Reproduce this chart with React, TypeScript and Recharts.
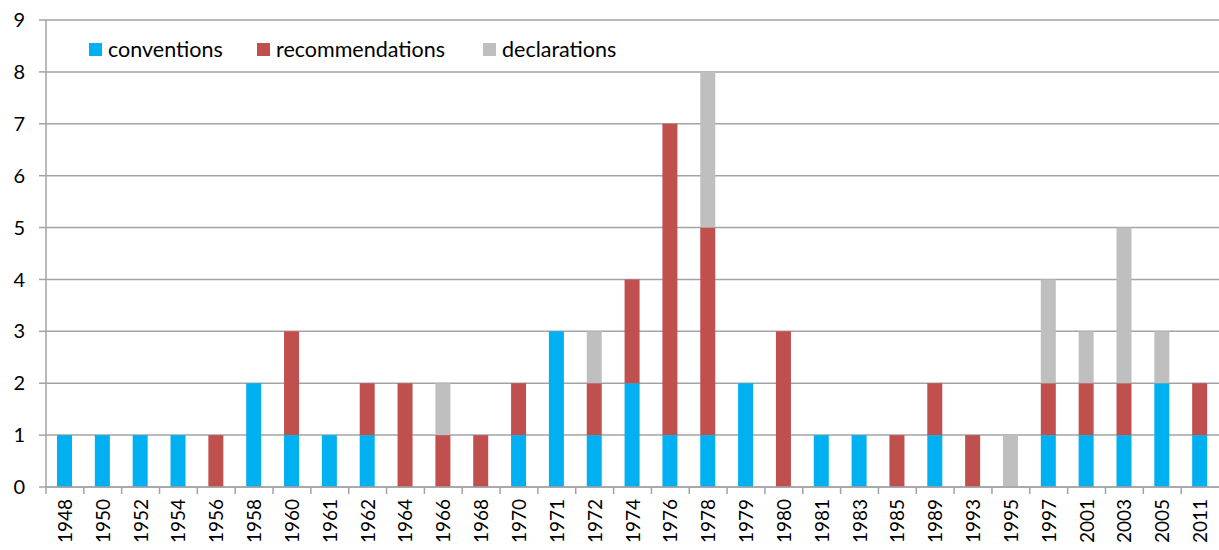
import React from 'react';
import { BarChart, Bar, XAxis, YAxis, CartesianGrid } from 'recharts';

const years = [
  '1948', '1950', '1952', '1954', '1956', '1958', '1960', '1961', '1962', '1964', '1966',
  '1968', '1970', '1971', '1972', '1974', '1976', '1978', '1979', '1980', '1981', '1983',
  '1985', '1989', '1993', '1995', '1997', '2001', '2003', '2005', '2011',
];
const conventions = [1, 1, 1, 1, 0, 2, 1, 1, 1, 0, 0, 0, 1, 3, 1, 2, 1, 1, 2, 0, 1, 1, 0, 1, 0, 0, 1, 1, 1, 2, 1];
const recommendations = [0, 0, 0, 0, 1, 0, 2, 0, 1, 2, 1, 1, 1, 0, 1, 2, 6, 4, 0, 3, 0, 0, 1, 1, 1, 0, 1, 1, 1, 0, 1];
const declarations = [0, 0, 0, 0, 0, 0, 0, 0, 0, 0, 1, 0, 0, 0, 1, 0, 0, 3, 0, 0, 0, 0, 0, 0, 0, 1, 2, 1, 3, 1, 0];
const yTicks = [0, 1, 2, 3, 4, 5, 6, 7, 8, 9];

const SERIES = [
  { key: 'conventions', name: 'conventions', color: '#00B0F0' },
  { key: 'recommendations', name: 'recommendations', color: '#C0504D' },
  { key: 'declarations', name: 'declarations', color: '#BFBFBF' },
];

const data = years.map((year, i) => ({
  year,
  conventions: conventions[i],
  recommendations: recommendations[i],
  declarations: declarations[i],
}));

const W = 1219;
const H = 550;
const LEFT = 46;
const BAND = (W - LEFT) / years.length;
const FONT = 'Lato, "Open Sans", sans-serif';
const GRID = '#a3a3a3';

function YearTick(props: any) {
  const { x, y, payload } = props;
  return (
    <g>
      <line x1={x - BAND / 2} y1={y} x2={x - BAND / 2} y2={y + 7} stroke={GRID} strokeWidth={1.5} />
      <text
        x={0}
        y={0}
        transform={`translate(${x + 7},${y + 12}) rotate(-90)`}
        textAnchor="end"
        fontSize={19}
        fontFamily={FONT}
        fill="#000"
      >
        {payload.value}
      </text>
    </g>
  );
}

function ChartLegend() {
  const offsets = [0, 168, 394];
  return (
    <div style={{ position: 'absolute', top: 36, left: 89, height: 26, fontFamily: FONT, fontSize: 21.5 }}>
      {SERIES.map((s, i) => (
        <div
          key={s.key}
          style={{ position: 'absolute', left: offsets[i], top: 0, display: 'flex', alignItems: 'center', whiteSpace: 'nowrap' }}
        >
          <span style={{ width: 13, height: 13, background: s.color, display: 'inline-block', marginRight: 6 }} />
          <span style={{ color: '#000', lineHeight: '26px' }}>{s.name}</span>
        </div>
      ))}
    </div>
  );
}

export default function App() {
  return (
    <div style={{ position: 'absolute', left: 0, top: 0, width: W, height: H, background: '#fff' }}>
      <BarChart width={W} height={H} data={data} margin={{ top: 20, right: 0, left: 0, bottom: 0 }} barSize={15}>
        <CartesianGrid vertical={false} stroke={GRID} strokeWidth={1.5} />
        <XAxis
          dataKey="year"
          interval={0}
          height={63}
          tickLine={false}
          tickSize={0}
          tickMargin={0}
          axisLine={{ stroke: GRID, strokeWidth: 1.5 }}
          tick={<YearTick />}
        />
        <YAxis
          width={LEFT}
          domain={[0, 9]}
          ticks={yTicks}
          interval={0}
          tickSize={7}
          tickMargin={14}
          axisLine={{ stroke: GRID, strokeWidth: 1.5 }}
          tickLine={{ stroke: GRID, strokeWidth: 1.5 }}
          tick={{ fontSize: 20, fontFamily: FONT, fill: '#000' }}
        />
        {SERIES.map((s) => (
          <Bar key={s.key} dataKey={s.key} name={s.name} stackId="a" fill={s.color} isAnimationActive={false} />
        ))}
      </BarChart>
      <ChartLegend />
    </div>
  );
}
